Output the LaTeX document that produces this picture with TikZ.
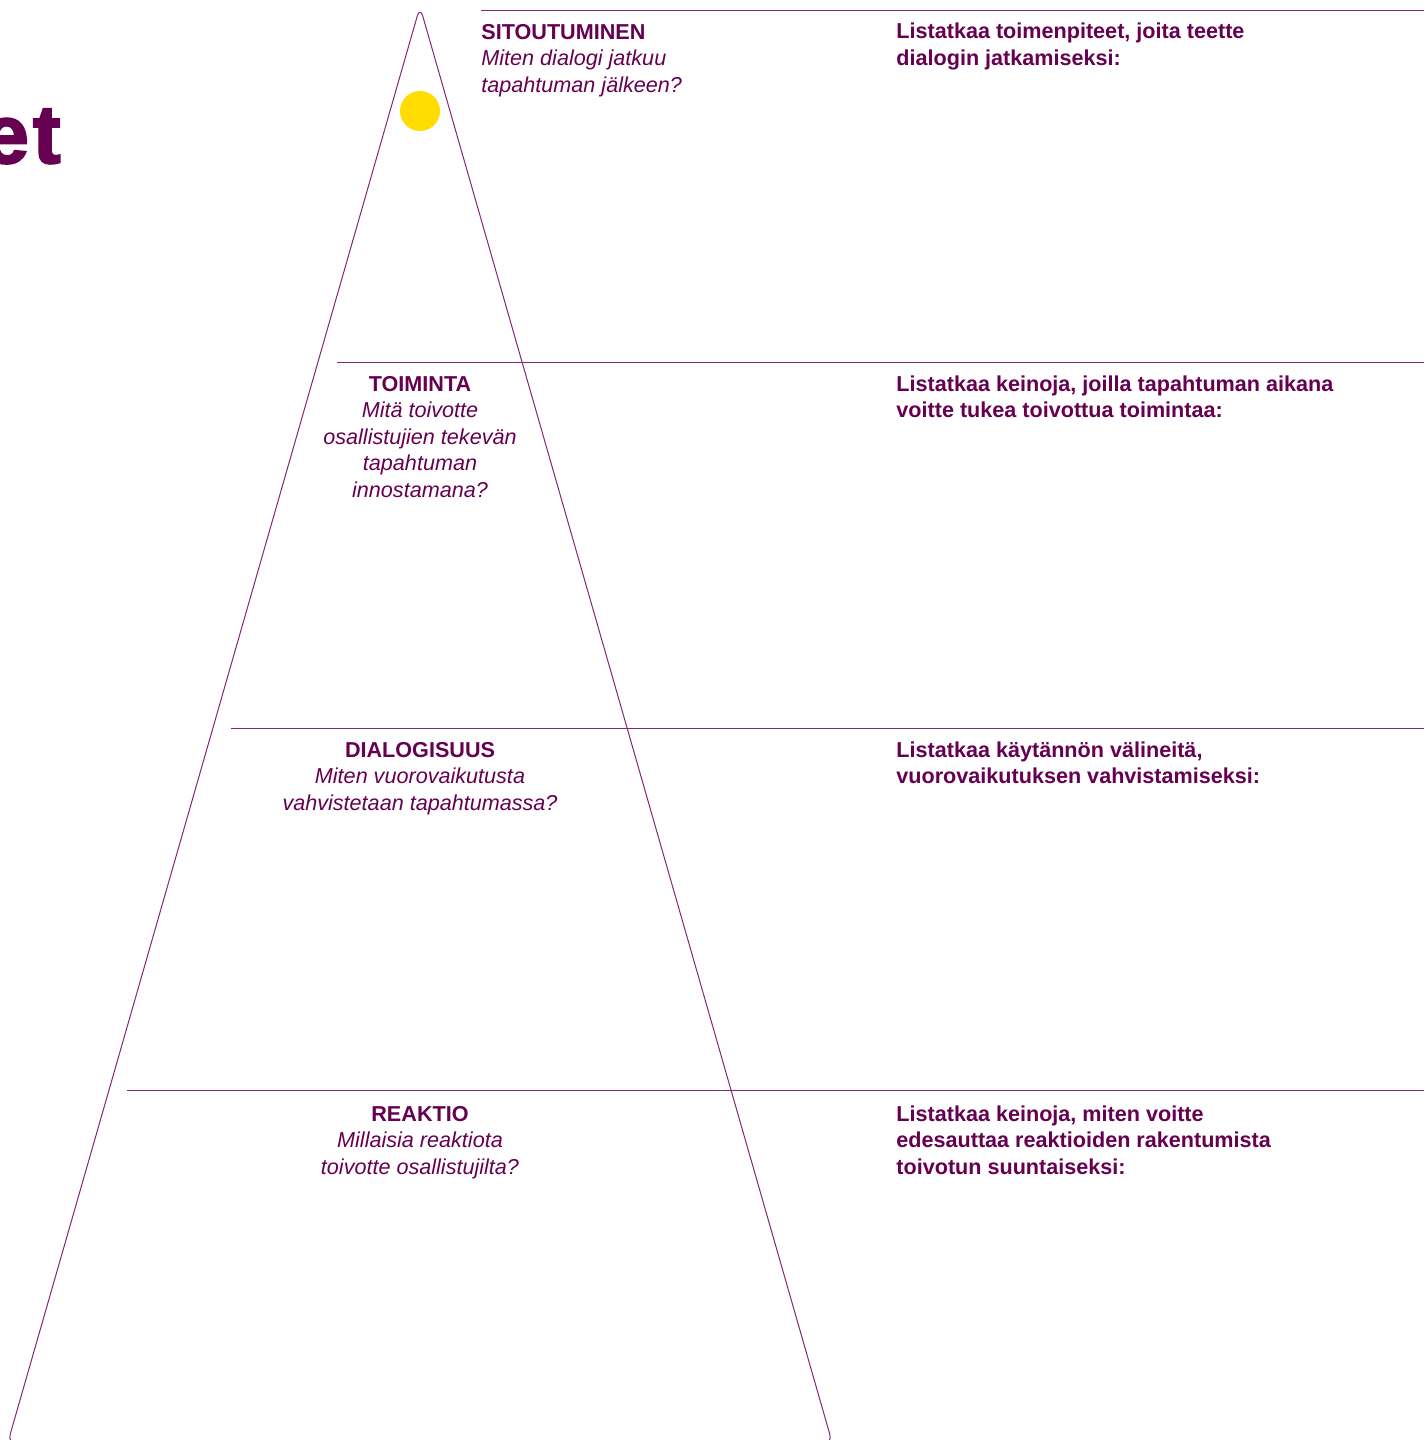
\documentclass[tikz,border=0pt]{standalone}
\usepackage{fontspec}
\setmainfont{Liberation Sans}
\newfontfamily\titlefont[FakeBold=2.5]{Liberation Sans}
\usepackage{tikz}

\definecolor{plum}{RGB}{102,0,80}
\definecolor{plumline}{RGB}{128,40,120}
\definecolor{sun}{RGB}{255,221,0}

\tikzset{
  frame/.style={draw=plumline, line width=0.5pt},
  stage/.style={text=plum, inner sep=0pt, align=center, anchor=base,
    font=\fontsize{10.8}{13.25}\selectfont},
  prompt/.style={text=plum, inner sep=0pt, align=left, anchor=base west,
    font=\fontsize{10.8}{13.25}\selectfont\bfseries},
}

\begin{document}
\begin{tikzpicture}[x=0.5pt,y=0.5pt,yscale=-1,xscale=1]
\useasboundingbox (0,0) rectangle (1424,1440);

%Title (cut off at the left edge)
\node (title) [anchor=base east, inner sep=0pt, text=plum, font=\titlefont\fontsize{41.5}{41.5}\selectfont\bfseries] at (61,163) {e\kern2pt t};

%Shape: Triangle
\draw [frame, rounded corners=5pt] (420,6.5) -- (832.6,1444) -- (7.4,1444) -- cycle;
%Shape: Circle
\fill [sun] (420,111) circle (20);

%Straight Lines
\draw [frame] (481,10) -- (1424,10);
\draw [frame] (337,362) -- (1424,362);
\draw [frame] (231,728) -- (1424,728);
\draw [frame] (127,1090) -- (1424,1090);

% Text Node (placed at the baseline of the last line)
\node (sitoutuminen) [stage, align=left, anchor=base west] at (481,92)
  {\textbf{SITOUTUMINEN}\\ \textit{Miten dialogi jatkuu}\\ \textit{tapahtuman jälkeen?}};
% Text Node
\node (toiminta) [stage] at (420,497)
  {\textbf{TOIMINTA}\\ \textit{Mitä toivotte}\\ \textit{osallistujien tekevän}\\ \textit{tapahtuman}\\ \textit{innostamana?}};
% Text Node
\node (dialogisuus) [stage] at (420,810)
  {\textbf{DIALOGISUUS}\\ \textit{Miten vuorovaikutusta}\\ \textit{vahvistetaan tapahtumassa?}};
% Text Node
\node (reaktio) [stage] at (420,1174)
  {\textbf{REAKTIO}\\ \textit{Millaisia reaktiota}\\ \textit{toivotte osallistujilta?}};

% Text Node
\node (jatko) [prompt] at (896,65.5)
  {Listatkaa toimenpiteet, joita teette\\ dialogin jatkamiseksi:};
% Text Node
\node (tuki) [prompt] at (896,417.5)
  {Listatkaa keinoja, joilla tapahtuman aikana\\ voitte tukea toivottua toimintaa:};
% Text Node
\node (valineet) [prompt] at (896,783.5)
  {Listatkaa käytännön välineitä,\\ vuorovaikutuksen vahvistamiseksi:};
% Text Node
\node (keinot) [prompt] at (896,1174)
  {Listatkaa keinoja, miten voitte\\ edesauttaa reaktioiden rakentumista\\ toivotun suuntaiseksi:};
\end{tikzpicture}
\end{document}
